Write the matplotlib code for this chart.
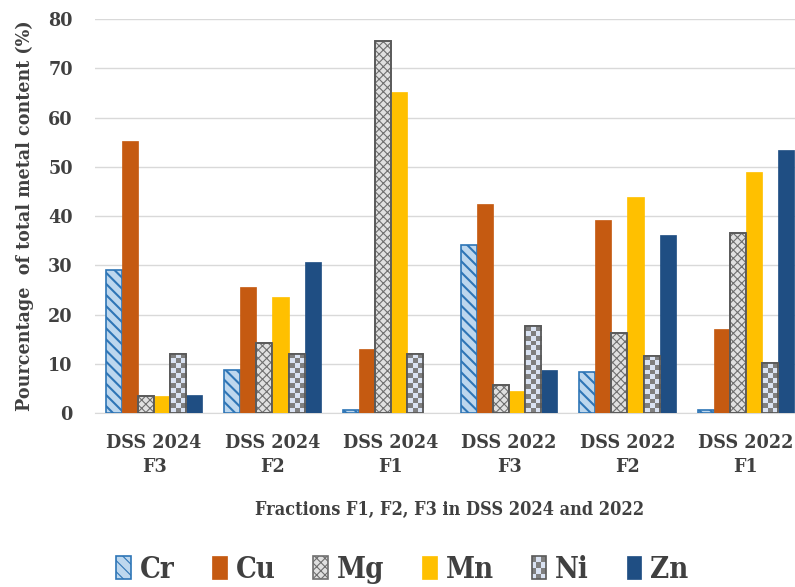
import numpy as np
import matplotlib
matplotlib.use("Agg")
import matplotlib.pyplot as plt
from matplotlib.patches import Patch, Rectangle
from matplotlib.colors import ListedColormap
from matplotlib.legend_handler import HandlerBase

groups = ["DSS 2024\nF3", "DSS 2024\nF2", "DSS 2024\nF1",
          "DSS 2022\nF3", "DSS 2022\nF2", "DSS 2022\nF1"]
metals = ["Cr", "Cu", "Mg", "Mn", "Ni", "Zn"]

cr = [29.0, 8.8, 0.6, 34.1, 8.3, 0.6]
cu = [55.3, 25.5, 12.9, 42.5, 39.1, 17.0]
mg = [3.4, 14.2, 75.6, 5.6, 16.2, 36.6]
mn = [3.5, 23.6, 65.2, 4.4, 43.8, 49.0]
ni = [12.0, 12.0, 12.0, 17.6, 11.6, 10.1]
zn = [3.6, 30.7, 0.0, 8.8, 36.2, 53.5]

series = [cr, cu, mg, mn, ni, zn]

styles = {
    "Cr": dict(facecolor="#bdd7ee", edgecolor="#2e75b6", hatch="\\\\\\", linewidth=1.2),
    "Cu": dict(facecolor="#c55a11", edgecolor="#c55a11", linewidth=0.5),
    "Mg": dict(facecolor="#e0e0e0", edgecolor="#6f6f6f", hatch="xxxx", linewidth=1.2),
    "Mn": dict(facecolor="#ffc000", edgecolor="#ffc000", linewidth=0.5),
    "Ni": dict(facecolor="#dae3f3", edgecolor="#595959", linewidth=1.2),
    "Zn": dict(facecolor="#1f4e83", edgecolor="#1f4e83", linewidth=0.5),
}
CHECK_LIGHT, CHECK_DARK = "#dae3f3", "#7f7f7f"

txt = dict(family="DejaVu Serif", fontweight="bold", fontstretch="condensed",
           color="#404040")


class CheckerHandler(HandlerBase):
    """Legend key drawn as a small checkerboard square."""

    def create_artists(self, legend, orig_handle, xdescent, ydescent,
                       width, height, fontsize, trans):
        arts = []
        nx, ny = 3, 4
        cw, ch = width / nx, height / ny
        for i in range(nx):
            for j in range(ny):
                c = CHECK_DARK if (i + j) % 2 else CHECK_LIGHT
                arts.append(Rectangle((-xdescent + i * cw, -ydescent + j * ch),
                                      cw, ch, facecolor=c, edgecolor="none",
                                      transform=trans))
        arts.append(Rectangle((-xdescent, -ydescent), width, height,
                              facecolor="none", edgecolor="#595959",
                              linewidth=1.2, transform=trans))
        return arts


fig = plt.figure(figsize=(7.95, 5.87), dpi=100)
ax = fig.add_axes([0.1195, 0.2964, 0.893, 0.6712])

x = np.arange(len(groups))
w = 0.136
offsets = (np.arange(len(metals)) - (len(metals) - 1) / 2) * w

checker = ListedColormap([CHECK_LIGHT, CHECK_DARK])

for name, vals, off in zip(metals, series, offsets):
    plt.rcParams["hatch.linewidth"] = 1.5 if name == "Cr" else 0.8
    bars = ax.bar(x + off, vals, width=w, zorder=3, **styles[name])
    if name == "Mg":
        ax.bar(x + off, vals, width=w, facecolor="none", edgecolor="#595959",
               linewidth=1.3, zorder=4)
    if name == "Ni":
        # checkerboard fill, clipped to each bar
        for b in bars:
            bx, by = b.get_x(), b.get_y()
            bw, bh = b.get_width(), b.get_height()
            if bh <= 0:
                continue
            ny = max(1, int(round(bh / 1.0)))
            cb = (np.add.outer(np.arange(ny), np.arange(3)) % 2).astype(float)
            img = ax.imshow(cb, extent=(bx, bx + bw, by, by + bh), origin="lower",
                            cmap=checker, vmin=0, vmax=1,
                            aspect="auto", interpolation="nearest", zorder=3.5)
            img.set_clip_path(b)
        ax.bar(x + off, vals, width=w, facecolor="none",
               edgecolor="#595959", linewidth=1.3, zorder=4)

ax.set_xlim(-0.5, len(groups) - 0.5)
ax.set_ylim(0, 80)
ax.set_yticks(np.arange(0, 81, 10))
ax.yaxis.grid(True, color="#d9d9d9", linewidth=1.0, zorder=0)
ax.set_axisbelow(True)
for s in ["top", "right", "left"]:
    ax.spines[s].set_visible(False)
ax.spines["bottom"].set_color("#d9d9d9")
ax.tick_params(axis="x", length=0, pad=15)
ax.tick_params(axis="y", length=0, pad=16)
ax.set_xticks(x)
ax.set_xticklabels(groups, fontsize=14, linespacing=1.45, **txt)
for t in ax.get_yticklabels():
    t.set_fontsize(14)
    t.set_fontweight("bold")
    t.set_family("DejaVu Serif")
    t.set_fontstretch("condensed")
    t.set_color("#404040")

ax.set_ylabel("Pourcentage  of total metal content (%)", fontsize=14,
              labelpad=10, **txt)
ax.set_xlabel("Fractions F1, F2, F3 in DSS 2024 and 2022", fontsize=13,
              labelpad=18, **txt)

handles = [Patch(**styles[m]) for m in metals]
leg = fig.legend(handles, metals, loc="center", bbox_to_anchor=(0.506, 0.030),
                 ncol=6, frameon=False, handlelength=0.5, handleheight=0.85,
                 handletextpad=0.3, columnspacing=1.3,
                 handler_map={handles[4]: CheckerHandler()},
                 prop=dict(family="DejaVu Serif", weight="bold",
                           stretch="condensed", size=21))
for t in leg.get_texts():
    t.set_color("#404040")

fig.savefig("out.png", dpi=100)
